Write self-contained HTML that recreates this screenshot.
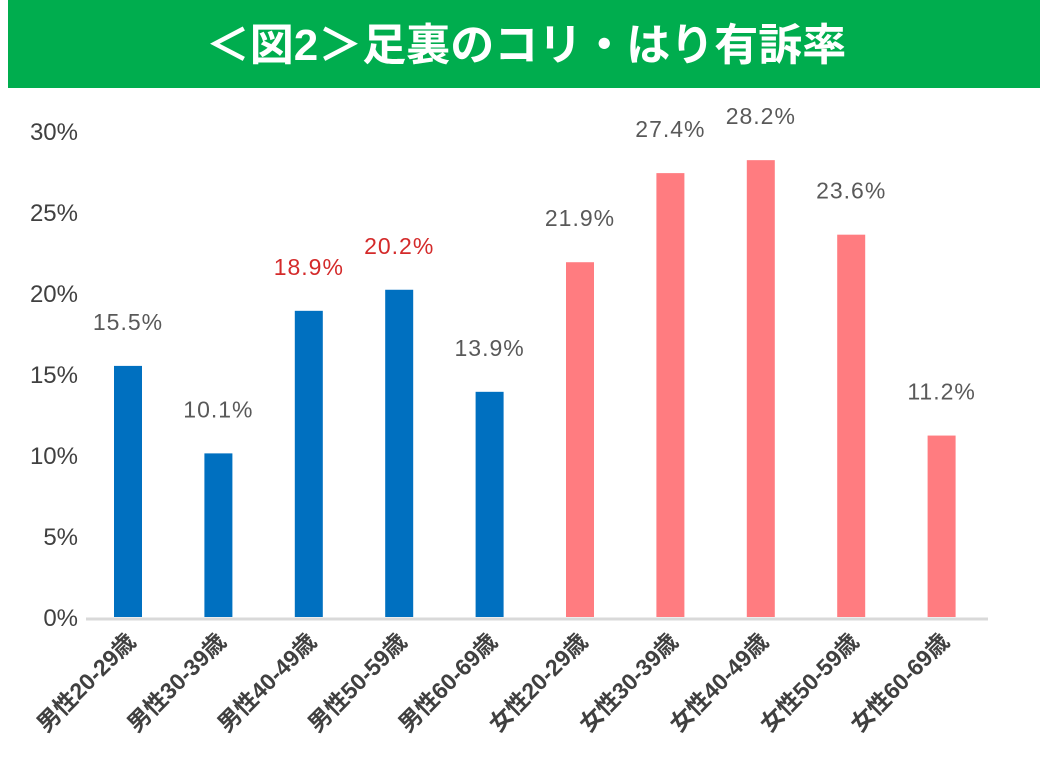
<!DOCTYPE html>
<html><head><meta charset="utf-8"><style>
body{margin:0;background:#fff;width:1047px;height:761px;overflow:hidden;font-family:"Liberation Sans","Noto Sans CJK JP",sans-serif}
</style></head><body>
<svg width="1047" height="761" style="position:absolute;left:0;top:0">
<rect x="8" y="0" width="1032" height="88" fill="#00ad4e"/>
<text x="526" y="60" text-anchor="middle" fill="#fff" font-size="44" font-weight="bold" font-family="Liberation Sans, Noto Sans CJK JP, sans-serif">＜図2＞足裏のコリ・はり有訴率</text>
<g id="yaxis"></g>
<g id="bars"></g>
<line x1="86" y1="619" x2="988" y2="619" stroke="#d9d9d9" stroke-width="3"/>
<g id="xlabels"></g>
</svg>
<script>
const categories=["男性20-29歳","男性30-39歳","男性40-49歳","男性50-59歳","男性60-69歳","女性20-29歳","女性30-39歳","女性40-49歳","女性50-59歳","女性60-69歳"];
const values=[15.5,10.1,18.9,20.2,13.9,21.9,27.4,28.2,23.6,11.2];
const valueLabels=["15.5%","10.1%","18.9%","20.2%","13.9%","21.9%","27.4%","28.2%","23.6%","11.2%"];
const highlighted=[false,false,true,true,false,false,false,false,false,false];
const yTicks=[0,5,10,15,20,25,30];
const yTickLabels=["0%","5%","10%","15%","20%","25%","30%"];
const NS="http://www.w3.org/2000/svg";
const y=v=>617-v*16.2;
const x=i=>128+i*90.4;
function mk(t,a,p){const e=document.createElementNS(NS,t);for(const k in a)e.setAttribute(k,a[k]);p.appendChild(e);return e;}
const ya=document.getElementById('yaxis'),bg=document.getElementById('bars'),xl=document.getElementById('xlabels');
yTicks.forEach((v,i)=>{const t=mk('text',{x:78,y:y(v)+9,'text-anchor':'end','font-size':24,fill:'#404040'},ya);t.textContent=yTickLabels[i];

});
values.forEach((v,i)=>{const c=i<5?'#0070c0':'#ff7c80';
const r=mk('rect',{x:x(i)-14,y:y(v),width:28,height:617-y(v),fill:c},bg);


const t=mk('text',{x:x(i),y:y(v)-36,'text-anchor':'middle','font-size':23,fill:highlighted[i]?'#d42a2a':'#595959','letter-spacing':'1'},bg);t.textContent=valueLabels[i];


const l=mk('text',{x:0,y:0,'text-anchor':'end','font-size':23,'font-weight':'bold',fill:'#404040',transform:`translate(${x(i)+9},${643}) rotate(-45)`},xl);l.textContent=categories[i];

});
</script>
</body></html>
